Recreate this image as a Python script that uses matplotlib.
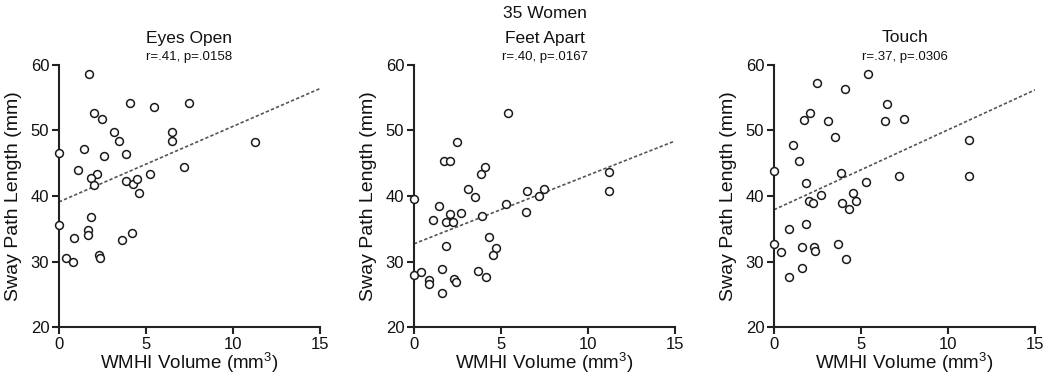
import matplotlib
matplotlib.use("Agg")
import matplotlib.pyplot as plt
import numpy as np

plt.rcParams['font.family'] = ['Liberation Sans', 'DejaVu Sans']
plt.rcParams['mathtext.fontset'] = 'custom'
plt.rcParams['mathtext.rm'] = 'Liberation Sans'

suptitle = "35 Women"
titles = ["Eyes Open", "Feet Apart", "Touch"]
stats = ["r=.41, p=.0158", "r=.40, p=.0167", "r=.37, p=.0306"]

# Panel 1: Eyes Open
x_eyes = [1.72, 4.08, 5.48, 7.45, 1.99, 2.47, 3.14, 6.48, 3.45, 6.48, 11.26, 0.0,
          1.46, 2.61, 3.87, 7.18, 1.09, 2.16, 1.82, 5.25, 2.01, 3.85, 4.25, 4.5,
          4.62, 0.0, 1.84, 1.65, 1.65, 0.86, 3.62, 4.21, 0.4, 0.8, 2.28, 2.38]
y_eyes = [58.6, 54.2, 53.6, 54.2, 52.6, 51.8, 49.8, 49.7, 48.4, 48.4, 48.3, 46.6,
          47.1, 46.1, 46.4, 44.5, 43.95, 43.4, 42.8, 43.4, 41.7, 42.3, 41.9, 42.6,
          40.4, 35.5, 36.8, 34.8, 34.0, 33.6, 33.35, 34.4, 30.6, 30.0, 31.05, 30.55]
fit_eyes = [39.1, 56.4]   # fitted value at x=0 and x=15

# Panel 2: Feet Apart
x_feet = [5.41, 2.45, 1.72, 2.07, 4.09, 3.83, 11.21, 11.21, 3.1, 3.48, 6.47, 7.46,
          7.16, 0.0, 5.28, 1.45, 6.41, 2.07, 2.68, 3.92, 1.07, 1.86, 2.22, 4.3,
          1.86, 4.69, 4.53, 0.0, 0.42, 1.61, 3.69, 0.88, 0.88, 2.28, 2.39, 4.15, 1.61]
y_feet = [52.6, 48.2, 45.3, 45.3, 44.5, 43.4, 43.7, 40.8, 41.1, 39.8, 40.8, 41.1,
          40.0, 39.6, 38.8, 38.4, 37.6, 37.3, 37.4, 37.0, 36.4, 36.0, 36.1, 33.8,
          32.4, 32.0, 31.0, 28.0, 28.4, 28.8, 28.6, 27.2, 26.6, 27.4, 26.9, 27.6, 25.2]
fit_feet = [32.7, 48.4]

# Panel 3: Touch
x_touch = [5.41, 2.45, 4.09, 6.47, 2.07, 1.72, 3.1, 6.39, 7.46, 3.48, 11.21, 1.07,
           1.45, 0.0, 3.83, 7.16, 11.21, 1.86, 5.28, 2.68, 4.53, 1.99, 2.22, 3.92,
           4.69, 4.3, 1.86, 0.86, 0.0, 0.38, 1.61, 2.28, 2.37, 3.69, 4.15, 1.61, 0.86]
y_touch = [58.6, 57.25, 56.4, 54.0, 52.6, 51.6, 51.4, 51.4, 51.8, 49.0, 48.6, 47.8,
           45.3, 43.85, 43.5, 43.1, 43.1, 42.0, 42.1, 40.2, 40.4, 39.3, 38.9, 39.0,
           39.2, 38.0, 35.8, 35.0, 32.6, 31.4, 32.2, 32.2, 31.6, 32.6, 30.4, 29.0, 27.6]
fit_touch = [37.9, 56.2]

xs = [x_eyes, x_feet, x_touch]
ys = [y_eyes, y_feet, y_touch]
fits = [fit_eyes, fit_feet, fit_touch]
fit_x = [0, 15]

xticks = [0, 5, 10, 15]
yticks = [20, 30, 40, 50, 60]

fig = plt.figure(figsize=(10.5, 3.8), dpi=100)
lefts = [59, 414, 774]
W, H = 1050, 380
axc = '#222222'
txt = '#111111'
for i in range(3):
    ax = fig.add_axes([lefts[i] / W, (H - 327) / H, 261 / W, 262 / H])
    ax.plot(fit_x, fits[i], linestyle=(0, (2.0, 1.3)), color='#555555', lw=1.2, zorder=2)
    ax.scatter(xs[i], ys[i], s=32, facecolors='white', edgecolors='#1a1a1a',
               linewidths=1.1, zorder=3, clip_on=False)
    ax.set_xlim(0, 15)
    ax.set_ylim(20, 60)
    ax.set_xticks(xticks)
    ax.set_yticks(yticks)
    for s in ['top', 'right']:
        ax.spines[s].set_visible(False)
    for s in ['left', 'bottom']:
        ax.spines[s].set_linewidth(1.5)
        ax.spines[s].set_color(axc)
    ax.tick_params(direction='out', length=5, width=1.5, color=axc,
                   labelsize=12, labelcolor=txt, pad=2)
    ax.set_xlabel("WMHI Volume (mm$^{3}$)", fontsize=13.5, color=txt, labelpad=-1)
    ax.set_ylabel("Sway Path Length (mm)", fontsize=14, color=txt, labelpad=6)
    cx = (lefts[i] + 130.5) / W
    fig.text(cx, 1 - 38 / H, titles[i], ha='center', va='center', fontsize=12.5, color=txt)
    fig.text(cx, 1 - 57 / H, stats[i], ha='center', va='center', fontsize=9.5, color=txt)
    if i == 1:
        fig.text(cx, 1 - 13 / H, suptitle, ha='center', va='center', fontsize=12.5, color=txt)

fig.savefig("out.png", dpi=100)
